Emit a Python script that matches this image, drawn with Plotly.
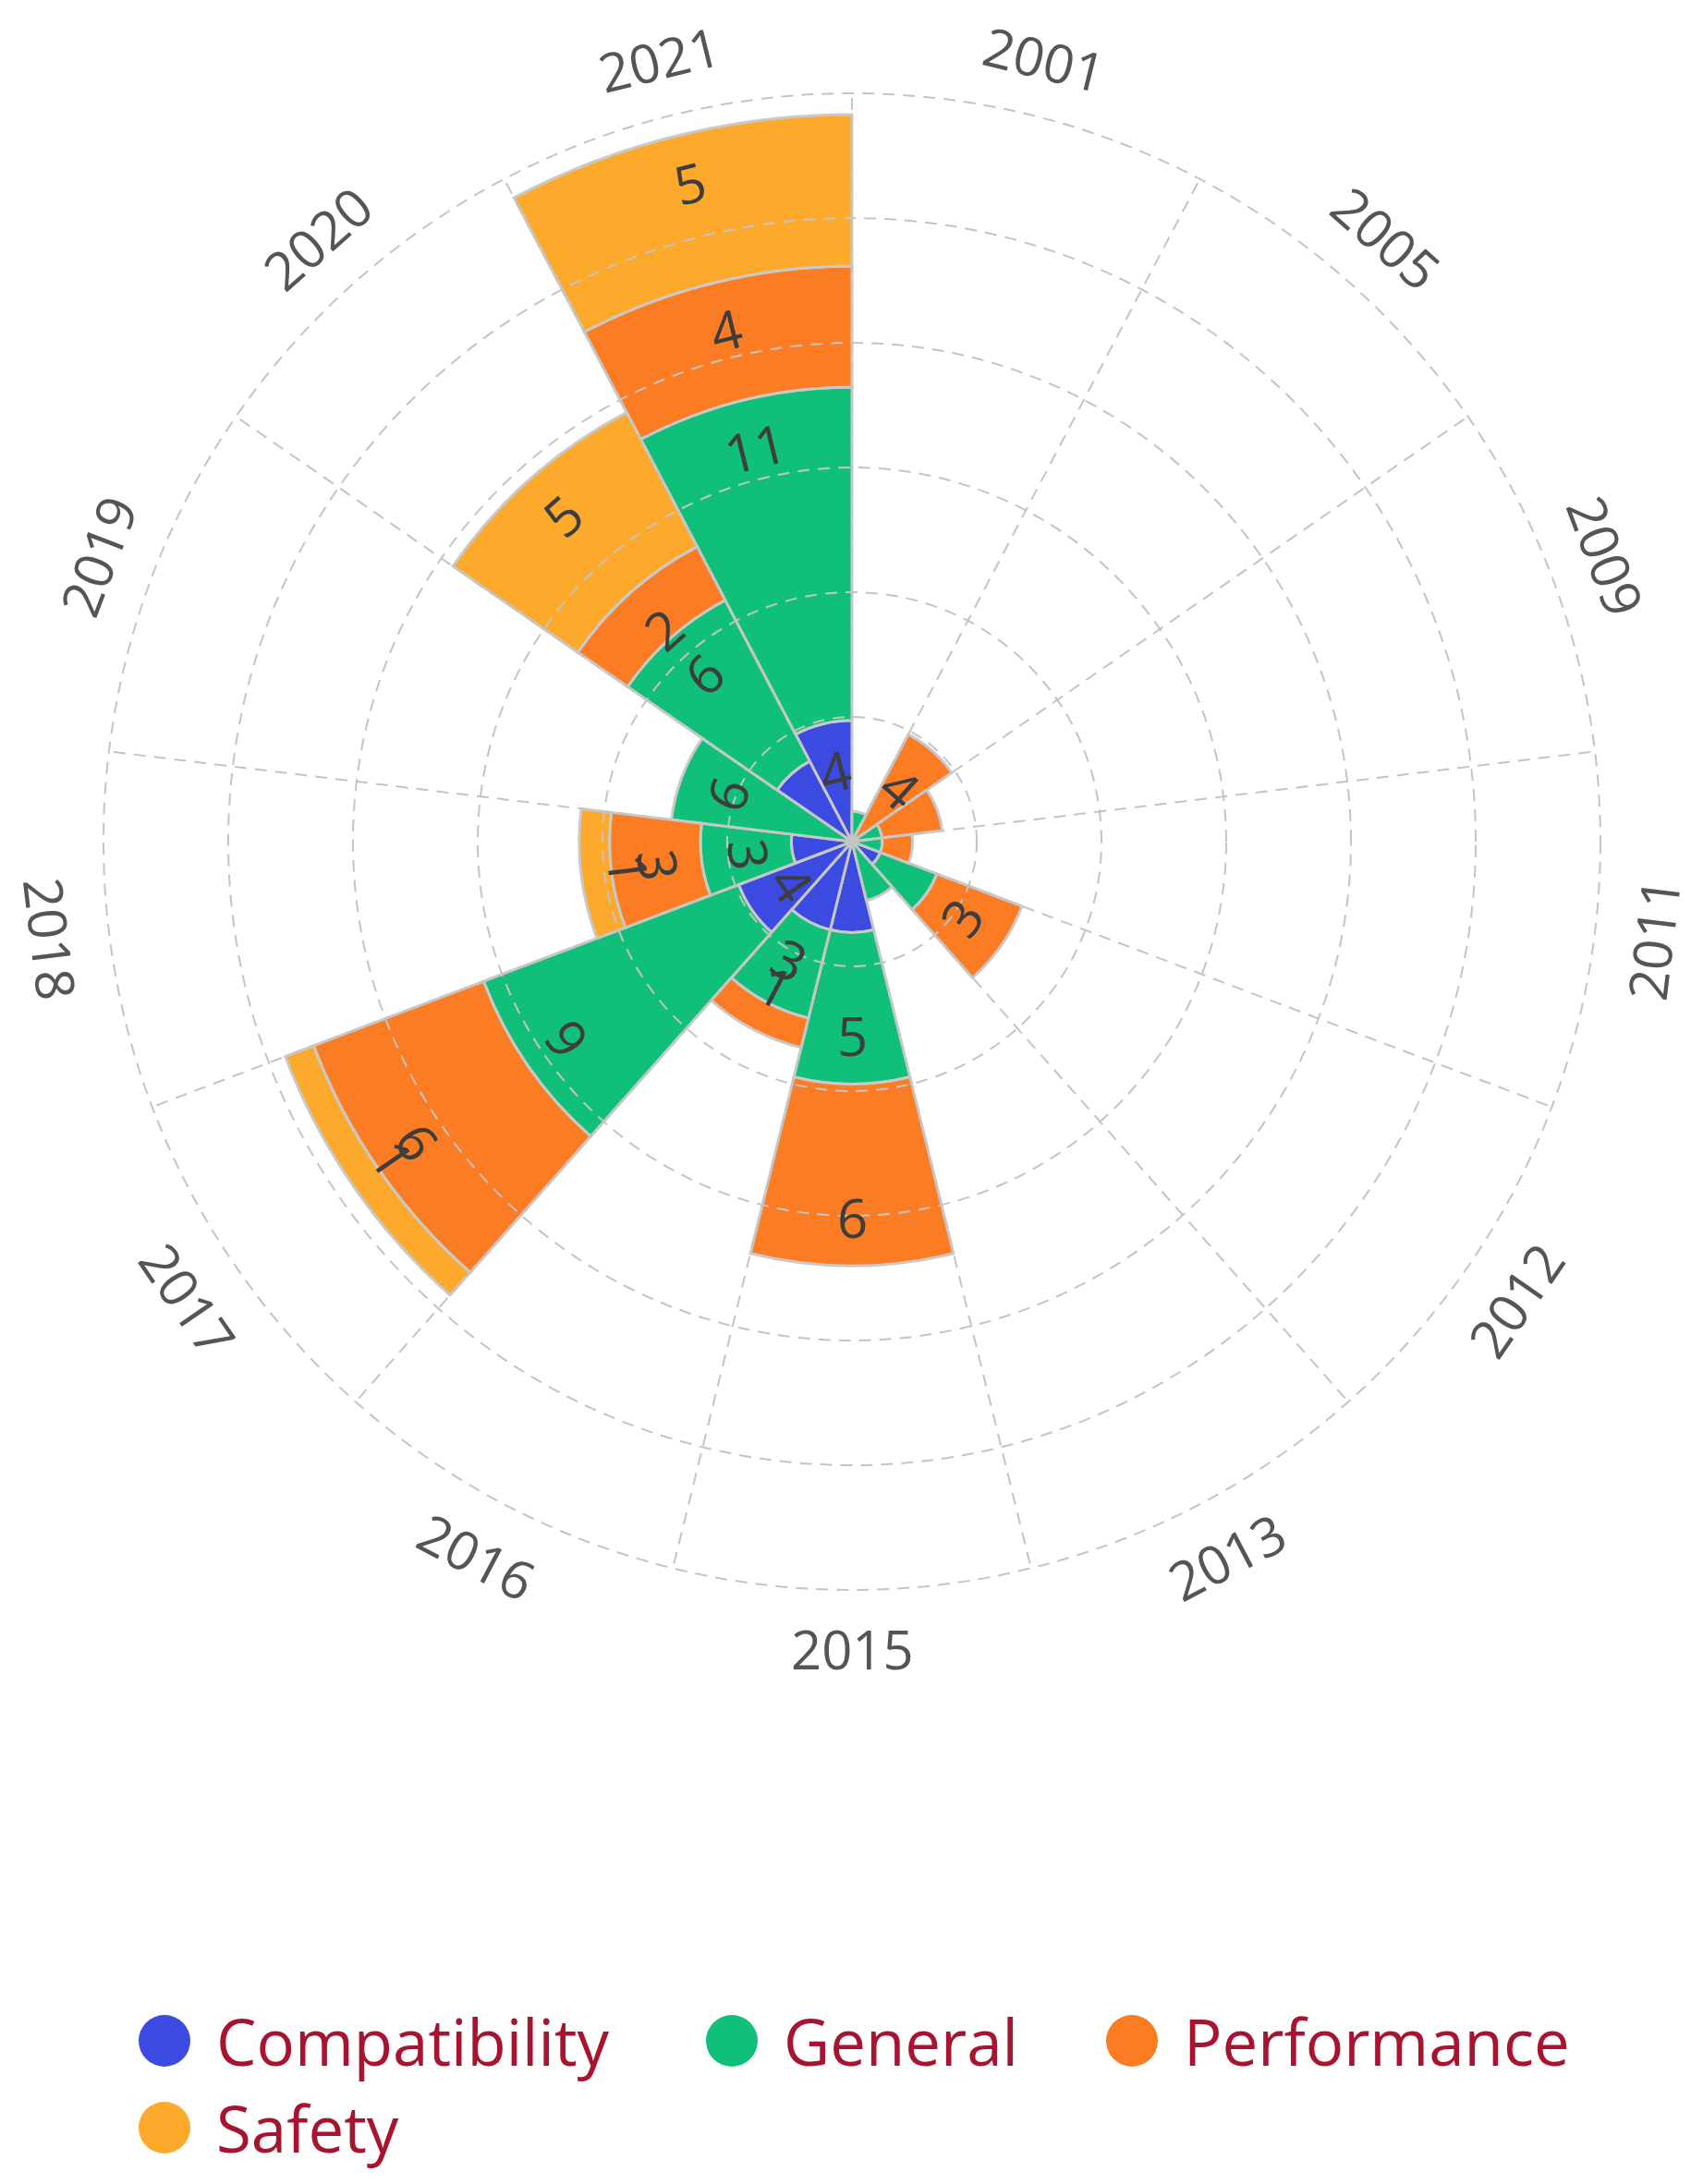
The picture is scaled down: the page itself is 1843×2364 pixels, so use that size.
import math
import plotly.graph_objects as go

# ---------------- data ----------------
years = ["2001", "2005", "2009", "2011", "2012", "2013", "2015",
         "2016", "2017", "2018", "2019", "2020", "2021"]
series_names = ["Compatibility", "General", "Performance", "Safety"]
compatibility = [0, 0, 0, 0, 1, 0, 3, 3, 4, 2, 0, 3, 4]
general = [1, 0, 1, 1, 2, 2, 5, 3, 9, 3, 6, 6, 11]
performance = [0, 4, 2, 1, 3, 0, 6, 1, 6, 3, 0, 2, 4]
safety = [0, 0, 0, 0, 0, 0, 0, 0, 1, 1, 0, 5, 5]
series_values = [compatibility, general, performance, safety]

# ---------------- style ----------------
colors = ["#3b4ae0", "#10bf79", "#fb7c22", "#fda92b"]
FONT = "Segoe UI, Open Sans, Noto Sans, sans-serif"
PAGE_MARGIN = 8            # default body margin of the html page
W, H = 1843 - 2 * PAGE_MARGIN, 2364 - 2 * PAGE_MARGIN
CX, CY = 922 - PAGE_MARGIN, 911 - PAGE_MARGIN   # polar centre in figure px
RPX = 810                  # polar radius in px
RMAX = 24.7                # radial axis max
N_RINGS = 6
LABEL_INSET = 1.6          # label sits this far inside the segment end
LABEL_MIN_TOP = 4          # labels shown only when segment end >= this
TICK_R_PX = 873

n = len(years)
step = 360.0 / n
centers = [(i + 0.5) * step for i in range(n)]
bounds = [i * step for i in range(n)]

dom_x = [(CX - RPX) / W, (CX + RPX) / W]
dom_y = [1 - (CY + RPX) / H, 1 - (CY - RPX) / H]


def to_paper(theta_deg, r_px):
    t = math.radians(theta_deg)
    px = CX + r_px * math.sin(t)
    py = CY - r_px * math.cos(t)
    return px / W, 1 - py / H


def tangential(theta_deg):
    if theta_deg <= 90:
        return theta_deg
    if theta_deg >= 270:
        return theta_deg - 360
    return theta_deg - 180


fig = go.Figure()

for name, vals, col in zip(series_names, series_values, colors):
    th = [centers[i] for i, v in enumerate(vals) if v > 0]
    rr = [v for v in vals if v > 0]
    fig.add_trace(go.Barpolar(
        r=rr, theta=th, width=[step] * len(rr), name=name,
        marker=dict(color=col, line=dict(color="#c9c9c9", width=3)),
        subplot="polar", showlegend=False,
    ))

# grid overlay subplot (drawn above bars)
fig.add_trace(go.Scatterpolar(r=[None], theta=[None], subplot="polar2",
                              showlegend=False, hoverinfo="skip"))

annotations = []
# value labels
cum = [0] * n
for vals in series_values:
    for i, v in enumerate(vals):
        cum[i] += v
        top = cum[i]
        if v > 0 and top >= LABEL_MIN_TOP:
            rl = (top - LABEL_INSET) / RMAX * RPX
            x, y = to_paper(centers[i], rl)
            annotations.append(dict(
                x=x, y=y, xref="paper", yref="paper", text=str(v),
                showarrow=False, xanchor="center", yanchor="middle",
                textangle=tangential(centers[i]),
                font=dict(family=FONT, size=58, color="#3d3d3d")))

# category labels
for i, yr in enumerate(years):
    x, y = to_paper(centers[i], TICK_R_PX)
    annotations.append(dict(
        x=x, y=y, xref="paper", yref="paper", text=yr, showarrow=False,
        xanchor="center", yanchor="middle", textangle=tangential(centers[i]),
        font=dict(family=FONT, size=58, color="#555555")))

dash = "13px,9px"
grid_col = "#c4c4c4"

# manual legend
legend_pos = [(178, 2209), (792, 2209), (1225, 2209), (178, 2303)]
shapes = []
MR = 28
for (mx, my), name, col in zip(legend_pos, series_names, colors):
    mx -= PAGE_MARGIN
    my -= PAGE_MARGIN
    shapes.append(dict(type="circle", xref="paper", yref="paper",
                       x0=(mx - MR) / W, x1=(mx + MR) / W,
                       y0=1 - (my + MR) / H, y1=1 - (my - MR) / H,
                       fillcolor=col, line=dict(width=0)))
    annotations.append(dict(
        x=(mx + 54) / W, y=1 - my / H, xref="paper", yref="paper",
        text=name, showarrow=False, xanchor="left", yanchor="middle",
        font=dict(family=FONT, size=69, color="#a8132f")))

# outer dashed ring of the polar frame
shapes.append(dict(type="circle", xref="paper", yref="paper", layer="above",
                   x0=dom_x[0], x1=dom_x[1], y0=dom_y[0], y1=dom_y[1],
                   line=dict(color=grid_col, width=2, dash=dash)))

fig.update_layout(
    width=W, height=H,
    margin=dict(l=0, r=0, t=0, b=0),
    paper_bgcolor="white",
    showlegend=False,
    polar=dict(
        domain=dict(x=dom_x, y=dom_y),
        bgcolor="white",
        barmode="stack",
        angularaxis=dict(type="linear", thetaunit="degrees", rotation=90,
                         direction="clockwise", showgrid=False,
                         showticklabels=False, ticks="", showline=False),
        radialaxis=dict(range=[0, RMAX], showgrid=False, showticklabels=False,
                        ticks="", showline=False),
    ),
    polar2=dict(
        domain=dict(x=dom_x, y=dom_y),
        bgcolor="rgba(0,0,0,0)",
        angularaxis=dict(type="linear", thetaunit="degrees", rotation=90,
                         direction="clockwise", tickmode="array",
                         tickvals=bounds, showgrid=True, gridcolor=grid_col,
                         gridwidth=2, griddash=dash, showticklabels=False,
                         ticks="", showline=False),
        radialaxis=dict(range=[0, RMAX], tickmode="array",
                        tickvals=[RMAX * k / N_RINGS for k in range(1, N_RINGS)],
                        showgrid=True, gridcolor=grid_col, gridwidth=2,
                        griddash=dash, showticklabels=False, ticks="",
                        showline=False),
    ),
    annotations=annotations,
    shapes=shapes,
)

fig.write_html("out.html")
